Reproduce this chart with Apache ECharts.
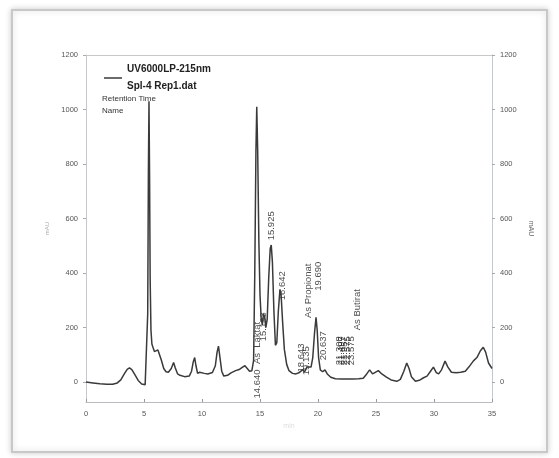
<!DOCTYPE html>
<html>
<head>
<meta charset="UTF-8">
<title>UV6000LP-215nm</title>
<script src="https://cdn.jsdelivr.net/npm/echarts@6/dist/echarts.min.js"></script>
<style>
  html, body { margin: 0; padding: 0; background: #fff; }
  #main { width: 559px; height: 458px; }
</style>
</head>
<body>
<div id="main"></div>
<script>
// retention time (min) and detector signal (mAU)
var time = [0, 0.6, 1.2, 1.8, 2.3, 2.7, 3.0, 3.3, 3.55, 3.75, 3.95, 4.2, 4.5, 4.8, 5.1, 5.25, 5.32, 5.38, 5.43, 5.48,
  5.53, 5.6, 5.68, 5.77, 5.9, 6.05, 6.2, 6.35, 6.5, 6.7, 6.9, 7.1, 7.35, 7.55, 7.7, 7.9, 8.1, 8.5, 8.9, 9.1,
  9.25, 9.37, 9.48, 9.62, 9.8, 9.95, 10.2, 10.5, 10.9, 11.15, 11.3, 11.42, 11.55, 11.7, 11.88, 12.2, 12.5, 12.9, 13.2, 13.5,
  13.7, 13.9, 14.1, 14.3, 14.45, 14.55, 14.65, 14.72, 14.8, 14.9, 15.0, 15.1, 15.2, 15.3, 15.4, 15.5, 15.62, 15.75, 15.88, 15.97,
  16.07, 16.2, 16.33, 16.45, 16.58, 16.72, 16.82, 16.95, 17.1, 17.3, 17.5, 17.8, 18.1, 18.4, 18.65, 18.85, 19.05, 19.2, 19.4, 19.55,
  19.7, 19.83, 19.93, 20.05, 20.2, 20.4, 20.6, 20.8, 21.1, 21.5, 22.0, 22.5, 23.0, 23.5, 23.9, 24.2, 24.45, 24.7, 24.9, 25.2,
  25.5, 25.9, 26.3, 26.8, 27.1, 27.4, 27.65, 27.85, 28.05, 28.4, 28.8, 29.1, 29.4, 29.7, 29.95, 30.2, 30.4, 30.65, 30.95, 31.2,
  31.5, 31.9, 32.3, 32.7, 33.0, 33.4, 33.7, 34.0, 34.25, 34.45, 34.7, 35.0];
var signal = [0, -3, -6, -8, -8, -3, 8, 30, 47, 52, 46, 28, 6, -7, -10, -5, 250, 780, 1030, 760,
  380, 190, 140, 128, 112, 110, 118, 112, 80, 50, 38, 36, 50, 72, 52, 30, 25, 20, 22, 40,
  75, 90, 60, 32, 36, 38, 32, 30, 35, 60, 110, 132, 90, 40, 22, 25, 34, 42, 46, 55,
  60, 50, 40, 42, 80, 400, 850, 1010, 850, 520, 320, 235, 210, 250, 240, 200, 230, 380, 490, 503,
  440, 260, 135, 145, 260, 340, 320, 220, 120, 65, 42, 32, 30, 35, 45, 38, 55, 62, 55, 90,
  180, 238, 190, 90, 45, 38, 45, 30, 18, 12, 11, 11, 11, 12, 14, 30, 45, 30, 35, 42,
  30, 18, 8, 3, 10, 40, 70, 50, 20, 3, 8, 16, 22, 40, 55, 35, 30, 45, 77, 55,
  36, 34, 36, 40, 55, 78, 90, 115, 128, 110, 70, 50];

// peak annotations: text, anchor time, anchor value (text runs upward from anchor)
var peakText = ['14.640  As  Laktat', '15.193', '15.925', '16.642', '18.643', '19.135', 'As Propionat', '19.690',
  '20.637', '21.308', '21.497', '21.957', '22.575', '23.575', 'As Butirat'];
var peakTime = [14.8, 15.32, 16.0, 16.97, 18.6, 19.02, 19.2, 20.0, 20.5, 21.8, 22.05, 22.3, 22.55, 22.85, 23.4];
var peakValue = [-60, 150, 520, 300, 35, 25, 235, 335, 80, 62, 62, 62, 62, 62, 190];

var xTicks = [0, 5, 10, 15, 20, 25, 30, 35];
var yTicks = [0, 200, 400, 600, 800, 1000, 1200];

var chart = echarts.init(document.getElementById('main'), null, { renderer: 'canvas' });

var line = time.map(function (t, i) { return [t, signal[i]]; });
var notes = peakText.map(function (s, i) { return { name: s, value: [peakTime[i], peakValue[i]] }; });

var yAxisCommon = {
  type: 'value',
  min: -73,
  max: 1200,
  splitLine: { show: false },
  axisLine: { show: true, lineStyle: { color: '#c4c8cc', width: 1 } },
  axisTick: { show: true, customValues: yTicks, length: 3, lineStyle: { color: '#aaa' } },
  axisLabel: { customValues: yTicks, formatter: function (v) { return String(v); },
    fontSize: 7.5, color: '#555', fontFamily: 'Liberation Sans', margin: 8 },
  nameLocation: 'middle',
  nameGap: 34,
  nameTextStyle: { fontSize: 7, color: '#666', fontFamily: 'Liberation Sans' }
};

chart.setOption({
  animation: false,
  backgroundColor: '#fff',
  graphic: [
    {
      type: 'rect', z: -10,
      shape: { x: 12, y: 10, width: 535, height: 442 },
      style: { fill: '#fff', stroke: '#c8c8c8', lineWidth: 2, shadowBlur: 6, shadowColor: 'rgba(0,0,0,0.18)' }
    },
    { type: 'text', left: 102, top: 95, style: { text: 'Retention Time', fontSize: 8, fill: '#333', fontFamily: 'Liberation Sans' } },
    { type: 'text', left: 102, top: 107, style: { text: 'Name', fontSize: 8, fill: '#333', fontFamily: 'Liberation Sans' } }
  ],
  legend: {
    left: 99, top: 56,
    data: ['UV6000LP-215nm'],
    icon: 'rect', itemWidth: 18, itemHeight: 1.5, itemGap: 4,
    formatter: function () { return 'UV6000LP-215nm\nSpl-4 Rep1.dat'; },
    textStyle: { fontSize: 10, fontWeight: 'bold', color: '#222', fontFamily: 'Liberation Sans', lineHeight: 17 }
  },
  grid: { left: 86, right: 67, top: 55, bottom: 56 },
  xAxis: {
    type: 'value', min: 0, max: 35, interval: 5,
    splitLine: { show: false },
    axisLine: { show: true, onZero: false, lineStyle: { color: '#b8bcc0' } },
    axisTick: { show: true, inside: true, length: 3, lineStyle: { color: '#999' } },
    axisLabel: { fontSize: 7.5, color: '#555', fontFamily: 'Liberation Sans', margin: 8 },
    name: 'min', nameLocation: 'middle', nameGap: 21,
    nameTextStyle: { fontSize: 7, color: '#ddd' }
  },
  yAxis: [
    Object.assign({}, yAxisCommon, { position: 'left', name: 'mAU', nameRotate: 90,
      nameTextStyle: { fontSize: 6, color: '#aaa', fontFamily: 'Liberation Sans' } }),
    Object.assign({}, yAxisCommon, { position: 'right', name: 'mAU', nameRotate: -90 })
  ],
  series: [
    {
      name: 'UV6000LP-215nm',
      type: 'line',
      data: line,
      showSymbol: false,
      symbol: 'none',
      lineStyle: { color: '#3a3a3a', width: 1.5 },
      itemStyle: { color: '#3a3a3a' },
      markLine: {
        silent: true, symbol: 'none', label: { show: false },
        lineStyle: { color: '#c8c8c8', width: 1, type: 'solid' },
        data: [{ yAxis: 1200 }]
      }
    },
    {
      name: 'peaks',
      type: 'scatter',
      data: notes,
      symbolSize: 0,
      silent: true,
      label: {
        show: true,
        formatter: '{b}',
        position: 'inside',
        rotate: 90,
        align: 'left',
        verticalAlign: 'middle',
        fontSize: 9.5,
        color: '#1a1a1a',
        fontFamily: 'Liberation Sans'
      }
    }
  ]
});
</script>
</body>
</html>
